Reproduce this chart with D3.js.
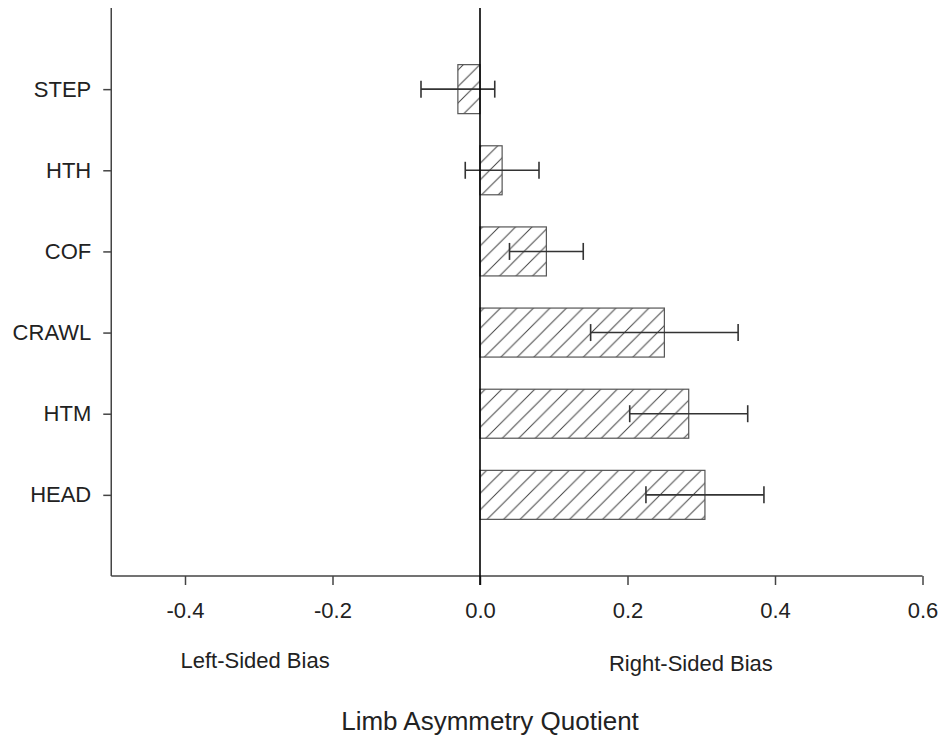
<!DOCTYPE html>
<html>
<head>
<meta charset="utf-8">
<script src="https://cdn.jsdelivr.net/npm/d3@7"></script>
<style>
  html, body { margin: 0; padding: 0; background: #fff; }
  svg { display: block; }
  text { font-family: "Liberation Sans", Arial, Helvetica, sans-serif; fill: #222; }
</style>
</head>
<body>
<svg id="chart" width="944" height="737"></svg>
<script>
const categories = ["STEP", "HTH", "COF", "CRAWL", "HTM", "HEAD"];
const means = [-0.03, 0.03, 0.09, 0.25, 0.283, 0.305];
const errors = [0.05, 0.05, 0.05, 0.10, 0.08, 0.08];
const xTicks = [-0.4, -0.2, 0.0, 0.2, 0.4, 0.6];
const xTickLabels = ["-0.4", "-0.2", "0.0", "0.2", "0.4", "0.6"];
const sideLabels = ["Left-Sided Bias", "Right-Sided Bias"];
const sideLabelX = [-0.305, 0.286];
const xTitle = "Limb Asymmetry Quotient";

(function () {
const svg = d3.select("#chart");
const pLeft = 111.25, pRight = 922.5, pTop = 8, pBottom = 576;

const x = d3.scaleLinear().domain([-0.5, 0.6]).range([pLeft, pRight]);
const y = d3.scalePoint().domain(categories).range([pTop, pBottom]).padding(1);
const barH = 49;

// hatch pattern
const defs = svg.append("defs");
const pat = defs.append("pattern")
  .attr("id", "hatch")
  .attr("patternUnits", "userSpaceOnUse")
  .attr("width", 16.5).attr("height", 16.5);
pat.append("path")
  .attr("d", "M-4,20.5 L20.5,-4 M-4,4 L4,-4 M12.5,20.5 L20.5,12.5")
  .attr("stroke", "#444").attr("stroke-width", 1).attr("fill", "none");

// bars
svg.append("g").selectAll("rect")
  .data(categories)
  .join("rect")
  .attr("x", (d, i) => Math.min(x(0), x(means[i])))
  .attr("width", (d, i) => Math.abs(x(means[i]) - x(0)))
  .attr("y", d => y(d) - barH / 2)
  .attr("height", barH)
  .attr("fill", "url(#hatch)")
  .attr("stroke", "#555")
  .attr("stroke-width", 1.2);

// error bars
const eg = svg.append("g").attr("stroke", "#333").attr("stroke-width", 1.6);
categories.forEach((c, i) => {
  const yc = y(c);
  const lo = x(means[i] - errors[i]), hi = x(means[i] + errors[i]);
  eg.append("line").attr("x1", lo).attr("x2", hi).attr("y1", yc).attr("y2", yc);
  eg.append("line").attr("x1", lo).attr("x2", lo).attr("y1", yc - 8.5).attr("y2", yc + 8.5);
  eg.append("line").attr("x1", hi).attr("x2", hi).attr("y1", yc - 8.5).attr("y2", yc + 8.5);
});

// left axis
const yAxis = d3.axisLeft(y).tickSize(8).tickPadding(12);
const gy = svg.append("g").attr("transform", `translate(${pLeft},0)`).call(yAxis);
gy.select(".domain").attr("d", `M0,${pTop}V${pBottom}`).attr("stroke", "#444").attr("stroke-width", 1.5);
gy.selectAll(".tick line").attr("stroke", "#444").attr("stroke-width", 1.5);
gy.selectAll(".tick text").attr("font-size", 22).attr("fill", "#222")
  .attr("font-family", '"Liberation Sans", Arial, sans-serif');

// bottom axis
const xAxis = d3.axisBottom(x).tickValues(xTicks).tickFormat((d, i) => xTickLabels[i]).tickSize(9).tickPadding(17);
const gx = svg.append("g").attr("transform", `translate(0,${pBottom})`).call(xAxis);
gx.select(".domain").attr("d", `M${pLeft},0H${pRight}`).attr("stroke", "#444").attr("stroke-width", 1.5);
gx.selectAll(".tick line").attr("stroke", "#444").attr("stroke-width", 1.5);
gx.selectAll(".tick text").attr("font-size", 22).attr("fill", "#222")
  .attr("font-family", '"Liberation Sans", Arial, sans-serif');

// zero line
svg.append("line")
  .attr("x1", x(0)).attr("x2", x(0))
  .attr("y1", pTop).attr("y2", pBottom + 9)
  .attr("stroke", "#000").attr("stroke-width", 1.6);

// side labels
svg.append("g").selectAll("text")
  .data(sideLabels)
  .join("text")
  .attr("x", (d, i) => x(sideLabelX[i]))
  .attr("y", (d, i) => i === 0 ? 668 : 670.5)
  .attr("text-anchor", "middle")
  .attr("font-size", 22)
  .text(d => d);

// title
svg.append("text")
  .attr("x", 490).attr("y", 730)
  .attr("text-anchor", "middle")
  .attr("font-size", 26)
  .text(xTitle);
})();
</script>
</body>
</html>
